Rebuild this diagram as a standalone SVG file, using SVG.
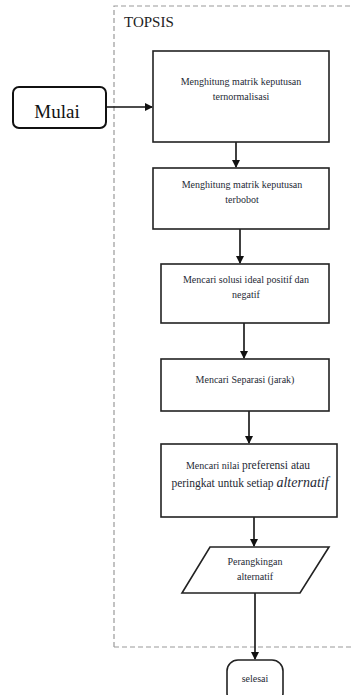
<svg xmlns="http://www.w3.org/2000/svg" width="351" height="695" viewBox="0 0 351 695">
<style>
.box{fill:#fff;stroke:#222;stroke-width:1.6}
.t{font-family:"Liberation Serif","Times New Roman",serif;font-size:10px;fill:#262a35;text-anchor:middle}
.c{stroke:#111;stroke-width:1.6;fill:none}
</style>
<defs>
<marker id="ah" markerWidth="8" markerHeight="8" refX="7" refY="4" orient="auto" markerUnits="userSpaceOnUse">
<path d="M0,0 L8,4 L0,8 z" fill="#111"/>
</marker>
</defs>
<rect x="0" y="0" width="351" height="695" fill="#fff"/>
<g id="topsis-group">
<path d="M114,647 L114,6 L351,6 M114,647 L351,647" fill="none" stroke="#9a9a9a" stroke-width="1.2" stroke-dasharray="5,3"/>
<text x="124" y="27" font-family="Liberation Serif,serif" font-size="15" fill="#222">TOPSIS</text>
</g>
<g id="connectors">
<line class="c" x1="106" y1="107" x2="152" y2="107" marker-end="url(#ah)"/>
<line class="c" x1="236" y1="142" x2="236" y2="167" marker-end="url(#ah)"/>
<line class="c" x1="240" y1="229" x2="240" y2="263" marker-end="url(#ah)"/>
<line class="c" x1="244" y1="323" x2="244" y2="358" marker-end="url(#ah)"/>
<line class="c" x1="249" y1="411" x2="249" y2="443" marker-end="url(#ah)"/>
<line class="c" x1="254" y1="517" x2="254" y2="546" marker-end="url(#ah)"/>
<line class="c" x1="255" y1="593" x2="255" y2="659" marker-end="url(#ah)"/>
</g>
<g id="mulai">
<rect x="13" y="87" width="93" height="41" rx="6" fill="#fff" stroke="#111" stroke-width="2"/>
<text x="57" y="118" font-family="Liberation Serif,serif" font-size="19" fill="#111" text-anchor="middle">Mulai</text>
</g>
<g id="n1">
<rect class="box" x="153" y="51" width="176" height="91"/>
<text class="t" x="241" y="85">Menghitung matrik keputusan</text>
<text class="t" x="241" y="100">ternormalisasi</text>
</g>
<g id="n2">
<rect class="box" x="153" y="168" width="176" height="61"/>
<text class="t" x="242" y="188">Menghitung matrik keputusan</text>
<text class="t" x="242" y="203">terbobot</text>
</g>
<g id="n3">
<rect class="box" x="161" y="264" width="168" height="59"/>
<text class="t" x="246" y="283">Mencari solusi ideal positif dan</text>
<text class="t" x="246" y="298">negatif</text>
</g>
<g id="n4">
<rect class="box" x="161" y="359" width="168" height="52"/>
<text class="t" x="245" y="383">Mencari Separasi (jarak)</text>
</g>
<g id="n5">
<rect class="box" x="161" y="444" width="176" height="73"/>
<text class="t" x="248" y="469">Mencari nilai <tspan font-size="11.5">preferensi atau</tspan></text>
<text class="t" x="250" y="487"><tspan font-size="11.5">peringkat untuk setiap </tspan><tspan font-size="14" font-style="italic">alternatif</tspan></text>
</g>
<g id="n6">
<polygon class="box" points="210,547 329,547 300,593 182,593"/>
<text class="t" x="255" y="565">Perangkingan</text>
<text class="t" x="255" y="580">alternatif</text>
</g>
<g id="selesai">
<rect class="box" x="227" y="660" width="56" height="44" rx="11"/>
<text class="t" x="255" y="682" font-size="11">selesai</text>
</g>
</svg>
